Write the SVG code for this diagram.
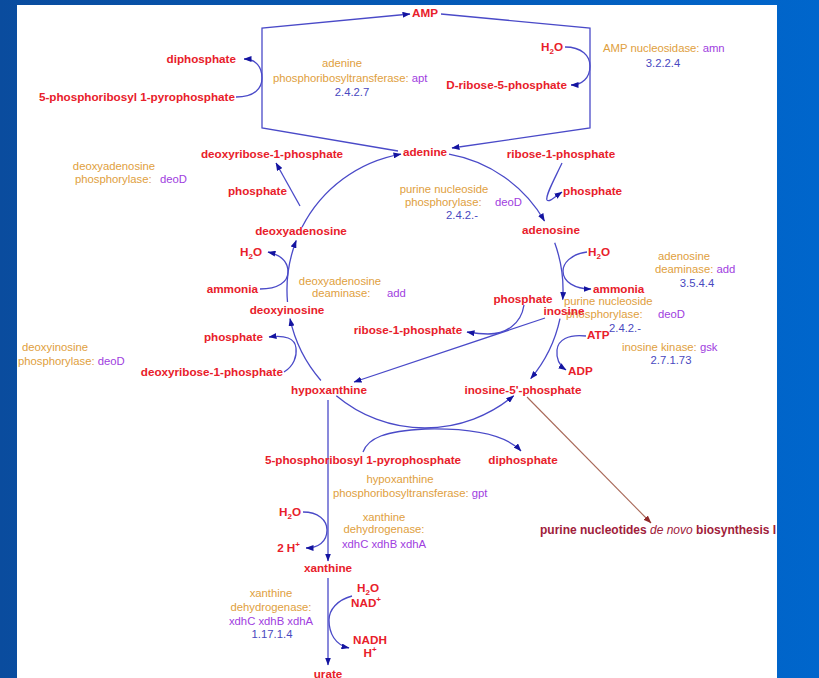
<svg xmlns="http://www.w3.org/2000/svg" width="819" height="678" viewBox="0 0 819 678">
<defs>
<linearGradient id="bg" x1="0" y1="0" x2="1" y2="0">
<stop offset="0" stop-color="#0A4C9E"/>
<stop offset="1" stop-color="#0066CC"/>
</linearGradient>
<clipPath id="panel"><rect x="17" y="5" width="760" height="673"/></clipPath>
<marker id="ah" viewBox="0 0 8 6" refX="7.5" refY="3" markerWidth="8" markerHeight="6" markerUnits="userSpaceOnUse" orient="auto">
<path d="M0,0 L8,3 L0,6 z" fill="#1414A0"/>
</marker>
<marker id="ahb" viewBox="0 0 8 6" refX="7.5" refY="3" markerWidth="8" markerHeight="6" markerUnits="userSpaceOnUse" orient="auto">
<path d="M0,0 L8,3 L0,6 z" fill="#902828"/>
</marker>
<style>
.c{font-family:"Liberation Sans",Arial,sans-serif;font-weight:bold;font-size:11.7px;fill:#E8202A}
.e{font-family:"Liberation Sans",Arial,sans-serif;font-size:11.3px;fill:#E0A040}
.g{fill:#A040E0}
.n{font-family:"Liberation Sans",Arial,sans-serif;font-size:11.3px;fill:#4848C0}
.m{text-anchor:middle}
.r{text-anchor:end}
.l{fill:none;stroke:#4A4AC8;stroke-width:1.3;marker-end:url(#ah)}
.p{fill:none;stroke:#4A4AC8;stroke-width:1.3}
.s{font-size:8px}
</style>
</defs>
<rect x="0" y="0" width="819" height="678" fill="url(#bg)"/>
<rect x="17" y="5" width="760" height="673" fill="#FFFFFF"/>

<g id="connectors">
<path class="l" d="M398,151 L262,128 L262,28 L410,14"/>
<path class="l" d="M441,14 L590,28 L590,128 L452,148"/>
<path class="l" d="M236,97 C255,97 262,88 262,78 C262,67 256,59 244,59"/>
<path class="l" d="M565,47 C582,47 590,56 590,66 C590,78 582,85 571,85"/>
<path class="l" d="M449,154.1 A138,138 0 0 1 544.5,221"/>
<path class="l" d="M554.7,242.8 A138,138 0 0 1 562.7,299.6"/>
<path class="l" d="M560,318.7 A138,138 0 0 1 530.7,378.7"/>
<path class="l" d="M336.3,395.7 A138,138 0 0 0 513.7,395.7"/>
<path class="l" d="M320.9,380.5 A138,138 0 0 1 290,318.7"/>
<path class="l" d="M287.5,302 A138,138 0 0 1 296.2,240.5"/>
<path class="l" d="M302,227.3 A138,138 0 0 1 401,154.1"/>
<path class="l" d="M300,206 L276,163"/>
<path class="l" d="M562,163 C555,178 545,196 547,200 C549,203 556,196 562,192"/>
<path class="l" d="M260,289 C278,289 288,282 288,272 C288,262 281,255 268,252"/>
<path class="l" d="M284,372 C294,366 297,356 296,348 C295,338 285,335 269,337"/>
<path class="p" d="M587,252 C570,254 563,264 563,271"/>
<path class="l" d="M563,271 C563,282 575,289 591,289"/>
<path class="l" d="M524,305 C521,325 505,334 488,334 C478,334 473,333 467,332"/>
<path class="l" d="M545,318 L354,382"/>
<path class="l" d="M586,336 C568,334 558,340 557,350 C556,360 560,366 566,370"/>
<path class="l" d="M363,452 C368,438 385,431 425,429 C470,428 505,434 521,451"/>
<path class="l" d="M328,400 L328,561"/>
<path class="l" d="M328,578 L328,665"/>
<path class="l" d="M303,512 C318,512 327,520 327,530 C327,542 318,548 306,548"/>
<path class="l" d="M352,596 C337,600 329,610 329,620 C329,633 335,645 349,648"/>
<path d="M527,397 L651,523" fill="none" stroke="#A86858" stroke-width="1.1" marker-end="url(#ahb)"/>
</g>

<g id="enz-apt">
<text class="e m" x="342" y="67">adenine</text>
<text class="e" x="273" y="82">phosphoribosyltransferase: <tspan class="g">apt</tspan></text>
<text class="n m" x="352" y="96">2.4.2.7</text>
</g>
<g id="enz-amn">
<text class="e" x="603" y="52">AMP nucleosidase: <tspan class="g">amn</tspan></text>
<text class="n m" x="663" y="67">3.2.2.4</text>
</g>
<g id="enz-deoD-1">
<text class="e m" x="114" y="170">deoxyadenosine</text>
<text class="e" x="75" y="183">phosphorylase:</text>
<text class="e g" x="160" y="183">deoD</text>
</g>
<g id="enz-deoD-2">
<text class="e m" x="444" y="193">purine nucleoside</text>
<text class="e" x="405" y="206">phosphorylase:</text>
<text class="e g" x="495" y="206">deoD</text>
<text class="n m" x="462" y="219">2.4.2.-</text>
</g>
<g id="enz-add-1">
<text class="e m" x="340" y="285">deoxyadenosine</text>
<text class="e" x="312" y="297">deaminase:</text>
<text class="e g" x="387" y="297">add</text>
</g>
<g id="enz-add-2">
<text class="e m" x="684" y="260">adenosine</text>
<text class="e" x="655" y="273">deaminase: <tspan class="g">add</tspan></text>
<text class="n m" x="697" y="287">3.5.4.4</text>
</g>
<g id="enz-deoD-3">
<text class="e" x="564" y="305">purine nucleoside</text>
<text class="e" x="566" y="318">phosphorylase:</text>
<text class="e g" x="658" y="318">deoD</text>
<text class="n m" x="625" y="332">2.4.2.-</text>
</g>
<g id="enz-gsk">
<text class="e" x="622" y="351">inosine kinase: <tspan class="g">gsk</tspan></text>
<text class="n m" x="671" y="364">2.7.1.73</text>
</g>
<g id="enz-deoD-4">
<text class="e m" x="55" y="351">deoxyinosine</text>
<text class="e" x="18" y="365">phosphorylase: <tspan class="g">deoD</tspan></text>
</g>
<g id="enz-gpt">
<text class="e m" x="400" y="483">hypoxanthine</text>
<text class="e" x="333" y="497">phosphoribosyltransferase: <tspan class="g">gpt</tspan></text>
</g>
<g id="enz-xdh-1">
<text class="e m" x="384" y="521">xanthine</text>
<text class="e m" x="384" y="533">dehydrogenase:</text>
<text class="e g m" x="384" y="548">xdhC xdhB xdhA</text>
</g>
<g id="enz-xdh-2">
<text class="e m" x="271" y="597">xanthine</text>
<text class="e m" x="271" y="611">dehydrogenase:</text>
<text class="e g m" x="271" y="625">xdhC xdhB xdhA</text>
<text class="n m" x="272" y="638">1.17.1.4</text>
</g>

<g id="AMP"><text class="c m" x="425" y="17">AMP</text></g>
<g id="diphosphate-1"><text class="c r" x="236" y="63">diphosphate</text></g>
<g id="prpp-1"><text class="c r" x="235" y="101">5-phosphoribosyl 1-pyrophosphate</text></g>
<g id="h2o-1"><text class="c r" x="563" y="51">H<tspan class="s" dy="3">2</tspan><tspan dy="-3">O</tspan></text></g>
<g id="d-ribose-5-phosphate"><text class="c r" x="567" y="89">D-ribose-5-phosphate</text></g>
<g id="adenine"><text class="c m" x="425" y="156">adenine</text></g>
<g id="ribose-1-phosphate-1"><text class="c m" x="561" y="158">ribose-1-phosphate</text></g>
<g id="phosphate-1"><text class="c" x="563" y="195">phosphate</text></g>
<g id="deoxyribose-1-phosphate-1"><text class="c m" x="272" y="158">deoxyribose-1-phosphate</text></g>
<g id="phosphate-2"><text class="c r" x="287" y="195">phosphate</text></g>
<g id="deoxyadenosine"><text class="c m" x="301" y="235">deoxyadenosine</text></g>
<g id="adenosine"><text class="c m" x="551" y="234">adenosine</text></g>
<g id="h2o-2"><text class="c r" x="262" y="256">H<tspan class="s" dy="3">2</tspan><tspan dy="-3">O</tspan></text></g>
<g id="ammonia-1"><text class="c r" x="258" y="293">ammonia</text></g>
<g id="h2o-3"><text class="c" x="588" y="256">H<tspan class="s" dy="3">2</tspan><tspan dy="-3">O</tspan></text></g>
<g id="ammonia-2"><text class="c" x="593" y="293">ammonia</text></g>
<g id="deoxyinosine"><text class="c m" x="287" y="314">deoxyinosine</text></g>
<g id="phosphate-3"><text class="c m" x="523" y="303">phosphate</text></g>
<g id="inosine"><text class="c m" x="564" y="315">inosine</text></g>
<g id="ribose-1-phosphate-2"><text class="c m" x="408" y="334">ribose-1-phosphate</text></g>
<g id="phosphate-4"><text class="c r" x="263" y="341">phosphate</text></g>
<g id="deoxyribose-1-phosphate-2"><text class="c r" x="283" y="376">deoxyribose-1-phosphate</text></g>
<g id="ATP"><text class="c" x="587" y="339">ATP</text></g>
<g id="ADP"><text class="c" x="568" y="375">ADP</text></g>
<g id="hypoxanthine"><text class="c m" x="329" y="394">hypoxanthine</text></g>
<g id="inosine-5-phosphate"><text class="c m" x="523" y="394">inosine-5'-phosphate</text></g>
<g id="prpp-2"><text class="c m" x="363" y="464">5-phosphoribosyl 1-pyrophosphate</text></g>
<g id="diphosphate-2"><text class="c m" x="523" y="464">diphosphate</text></g>
<g id="de-novo" clip-path="url(#panel)"><text class="c" x="540" y="534" style="fill:#A0203A;font-size:12px">purine nucleotides <tspan font-style="italic" font-weight="normal">de novo</tspan> biosynthesis I</text></g>
<g id="h2o-4"><text class="c r" x="301" y="516">H<tspan class="s" dy="3">2</tspan><tspan dy="-3">O</tspan></text></g>
<g id="two-h"><text class="c r" x="300" y="552">2 H<tspan class="s" dy="-5">+</tspan></text></g>
<g id="xanthine"><text class="c m" x="328" y="572">xanthine</text></g>
<g id="h2o-5"><text class="c m" x="368" y="592">H<tspan class="s" dy="3">2</tspan><tspan dy="-3">O</tspan></text></g>
<g id="nad"><text class="c m" x="366" y="607">NAD<tspan class="s" dy="-5">+</tspan></text></g>
<g id="nadh"><text class="c m" x="370" y="644">NADH</text></g>
<g id="h-plus"><text class="c m" x="370" y="657">H<tspan class="s" dy="-5">+</tspan></text></g>
<g id="urate"><text class="c m" x="328" y="678">urate</text></g>
</svg>
